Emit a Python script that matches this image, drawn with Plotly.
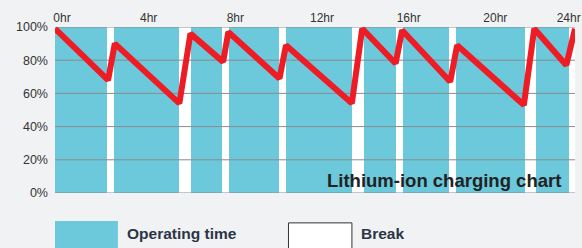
import plotly.graph_objects as go

# Operating periods (hours) – gaps between them are breaks
op_start = [0.0, 2.74, 6.29, 8.04, 10.65, 14.26, 16.06, 18.53, 22.22]
op_end = [2.40, 5.74, 7.72, 10.33, 13.71, 15.72, 18.18, 21.68, 23.70]

# Battery charge level (%)
charge_hr = [0, 2.45, 2.76, 5.74, 6.25, 7.76, 8.0, 10.36, 10.66, 13.70, 14.18, 15.72, 16.02, 18.24, 18.56, 21.64, 22.12, 23.60, 24.0]
charge_pct = [99, 68, 90, 54, 96, 79, 97, 69, 89, 54, 99, 78, 98, 67, 89, 53, 99, 77, 99]

y_ticks = [0, 20, 40, 60, 80, 100]
y_labels = ["0%", "20%", "40%", "60%", "80%", "100%"]
x_ticks = [0, 4, 8, 12, 16, 20, 24]
x_labels = ["0hr", "4hr", "8hr", "12hr", "16hr", "20hr", "24hr"]

BLUE = "#6cc8db"
RED = "#ee1d25"
BG = "#f1f2f4"
FONT = "Liberation Sans"

# keep the last label inside the page (it sits at the right edge)
x_text = x_labels[:-1] + [x_labels[-1] + "\u00a0" * 8]

fig = go.Figure()

fig.add_trace(go.Bar(
    x=[(s + e) / 2 for s, e in zip(op_start, op_end)],
    y=[100] * len(op_start),
    width=[e - s for s, e in zip(op_start, op_end)],
    marker=dict(color=BLUE, line=dict(width=0)),
    hoverinfo="skip",
    showlegend=False,
))

# grid lines drawn above the bars
gx, gy = [], []
for t in y_ticks:
    gx += [0, 24, None]
    gy += [t, t, None]
fig.add_trace(go.Scatter(
    x=gx, y=gy, mode="lines",
    line=dict(color="#8c8c8c", width=1),
    hoverinfo="skip", showlegend=False, cliponaxis=False,
))

fig.add_trace(go.Scatter(
    x=charge_hr, y=charge_pct, mode="lines",
    line=dict(color=RED, width=6),
    hoverinfo="skip", showlegend=False, cliponaxis=False,
))

fig.update_layout(
    width=582, height=248,
    margin=dict(l=55, r=7, t=27, b=55, autoexpand=False),
    paper_bgcolor=BG, plot_bgcolor="white",
    font=dict(family=FONT, color="#333333", size=12),
    bargap=0,
    xaxis=dict(
        range=[0, 24], side="top", showgrid=False, zeroline=False,
        tickvals=x_ticks, ticktext=x_text, ticks="",
        tickfont=dict(size=12, color="#333333"),
        ticklabelshift=7, ticklabelstandoff=2, fixedrange=True,
        automargin=False, ticklabeloverflow="allow",
    ),
    yaxis=dict(
        range=[0, 100], showgrid=False, zeroline=False,
        tickvals=y_ticks, ticktext=y_labels, ticks="",
        tickfont=dict(size=12.5, color="#333333"),
        ticklabelstandoff=6, fixedrange=True, automargin=False,
    ),
    shapes=[
        dict(type="rect", xref="paper", yref="paper",
             x0=0.0, x1=0.121, y0=-0.168, y1=-0.36,
             fillcolor=BLUE, line=dict(width=0)),
        dict(type="rect", xref="paper", yref="paper",
             x0=0.449, x1=0.571, y0=-0.18, y1=-0.36,
             fillcolor="white", line=dict(color="#333333", width=1)),
    ],
    annotations=[
        dict(text="<b>Lithium-ion charging chart</b>", xref="paper", yref="paper",
             x=0.977, y=0.078, xanchor="right", yanchor="middle", showarrow=False,
             font=dict(size=18.5, color="#222222", family=FONT)),
        dict(text="<b>Operating time</b>", xref="paper", yref="paper",
             x=0.134, y=-0.245, xanchor="left", yanchor="middle", showarrow=False,
             font=dict(size=15.5, color="#2c3545", family=FONT)),
        dict(text="<b>Break</b>", xref="paper", yref="paper",
             x=0.584, y=-0.245, xanchor="left", yanchor="middle", showarrow=False,
             font=dict(size=15.5, color="#2c3545", family=FONT)),
    ],
)

fig.write_html(
    "out.html",
    config={"displayModeBar": False, "staticPlot": True},
    post_script="document.body.style.margin='0';document.body.style.overflow='hidden';",
)
